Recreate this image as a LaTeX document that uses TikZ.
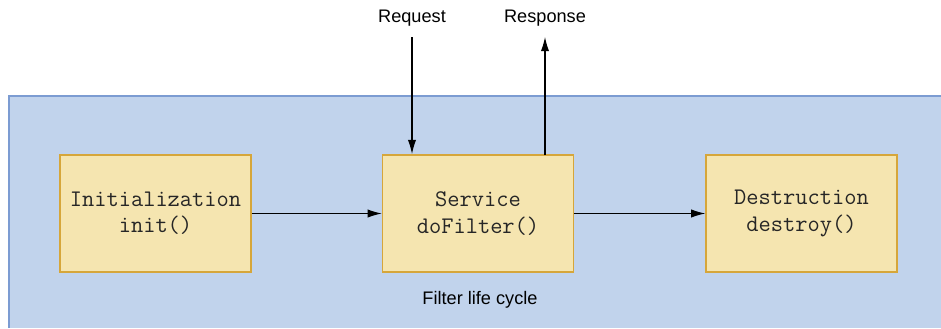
\documentclass[tikz,border=0pt]{standalone}
\usepackage{fontspec}
\setmainfont{Liberation Sans}
\usetikzlibrary{arrows.meta}
\definecolor{cyclefill}{RGB}{193,211,236}
\definecolor{cycleline}{RGB}{124,156,210}
\definecolor{stagefill}{RGB}{245,229,176}
\definecolor{stageline}{RGB}{214,166,58}

\begin{document}
\begin{tikzpicture}[
  x=0.03cm, y=-0.03cm,
  stage/.style={draw=stageline, fill=stagefill, line width=1.2pt,
    minimum width=191*0.03cm, minimum height=117*0.03cm, inner sep=0pt,
    align=center, text=black!85, font=\ttfamily\fontsize{20.3}{22.5}\selectfont},
  label/.style={font=\fontsize{15.5}{18}\selectfont, inner sep=0pt},
  flow/.style={-{Latex[length=12pt, width=7pt]}, line width=0.9pt, black},
]
\useasboundingbox (0,0) rectangle (941,328);

% life cycle area
\fill[cyclefill] (9,96) rectangle (941,328);
\draw[cycleline, line width=1pt] (9,328) |- (941,96);

\node[stage] (init) at (155.5, 213.5) {Initialization\\init()};
\node[stage] (service) at (478, 213.5) {Service\\doFilter()};
\node[stage] (destroy) at (801.5, 213.5) {Destruction\\destroy()};

\node[label] (request) at (412, 18) {Request};
\node[label] (response) at (545, 18) {Response};
\node[label] (cycle) at (480, 300) {Filter life cycle};

\coordinate (reqend) at (412, 154);
\coordinate (respstart) at (545, 155);
\coordinate (reqtop) at (412, 37);
\coordinate (resptop) at (545, 37);

\draw[flow] (init.east) -- (service.west);
\draw[flow] (service.east) -- (destroy.west);
\draw[flow] (reqtop) -- (reqend);
\draw[flow] (respstart) -- (resptop);

\end{tikzpicture}
\end{document}
